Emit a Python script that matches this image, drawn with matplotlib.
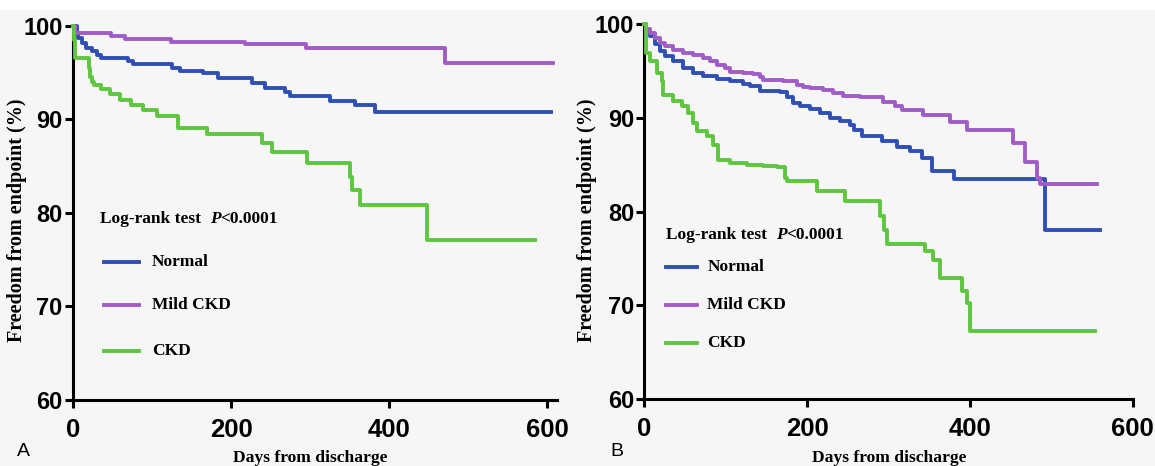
import matplotlib
matplotlib.use("Agg")
import matplotlib.pyplot as plt
from matplotlib import font_manager as fm
from matplotlib.lines import Line2D
from matplotlib.patches import Rectangle

# ---------------- data ----------------
x_ticks = [0, 200, 400, 600]
y_ticks = [60, 70, 80, 90, 100]
groups = ["Normal", "Mild CKD", "CKD"]
colors = {"Normal": "#2f4fb4", "Mild CKD": "#a05dc6", "CKD": "#5ec63f"}

# Panel A
A_normal_days = [0, 4.6, 6.8, 11, 17, 24, 30, 36, 70, 76, 125, 135, 165, 184, 226, 243, 268, 275, 325, 357, 382, 605]
A_normal_surv = [100, 99.2, 98.7, 98.15, 97.6, 97.25, 96.9, 96.6, 96.2, 95.95, 95.5, 95.2, 94.9, 94.4, 93.9, 93.35, 92.9, 92.45, 92.0, 91.5, 90.8, 90.8]
A_mild_days = [0, 3, 48, 66, 124, 218, 295, 471, 608]
A_mild_surv = [100, 99.2, 98.9, 98.6, 98.3, 98.0, 97.65, 96.05, 96.05]
A_ckd_days = [0, 1, 2.5, 20.5, 22, 23.6, 26, 36, 47, 59.5, 74, 89, 106, 133, 169, 239, 251.5, 296, 350, 353, 363, 448, 585]
A_ckd_surv = [100, 98.5, 96.6, 95.5, 94.5, 94.0, 93.7, 93.2, 92.65, 92.1, 91.5, 91.0, 90.3, 89.1, 88.4, 87.45, 86.5, 85.3, 83.8, 82.4, 80.85, 77.1, 77.1]

# Panel B
B_normal_days = [0, 2, 6.8, 12.9, 19, 25.2, 35.5, 47.7, 60, 72.3, 88.7, 105, 121.5, 130, 142, 166.6, 174.8, 183, 191, 203.5, 216, 228, 240.4, 252.7, 258, 267, 291.7, 310, 326.6, 341, 353.2, 380, 492.5, 560.5]
B_normal_surv = [100, 99.4, 98.7, 97.85, 97.1, 96.6, 96.05, 95.35, 94.8, 94.45, 94.15, 93.9, 93.65, 93.4, 92.85, 92.75, 92.25, 91.6, 91.25, 91.0, 90.55, 90.0, 89.65, 89.3, 88.7, 88.05, 87.5, 86.95, 86.45, 85.75, 84.3, 83.5, 78.0, 78.0]
B_mild_days = [0, 2, 6.8, 12.9, 19, 25.2, 35.5, 47.7, 60, 72.3, 80.5, 88.7, 99, 105, 121.5, 134, 142, 146, 170.7, 179, 187, 195, 203.5, 220, 232, 244.5, 265, 293.8, 308, 316.3, 343, 375.8, 396.3, 453.6, 468, 482.3, 486.4, 556]
B_mild_surv = [100, 99.5, 99.05, 98.55, 98.0, 97.65, 97.3, 96.95, 96.7, 96.4, 96.05, 95.7, 95.35, 94.9, 94.8, 94.7, 94.35, 94.1, 94.0, 93.9, 93.55, 93.3, 93.15, 92.95, 92.65, 92.3, 92.2, 91.75, 91.25, 90.8, 90.3, 89.55, 88.75, 87.35, 85.35, 83.6, 82.9, 82.9]
B_ckd_days = [0, 1.4, 6.8, 15, 21, 23.2, 35.5, 45.7, 54, 60, 64, 76.4, 84.6, 90.8, 105, 125.6, 146, 162.5, 172.7, 174.8, 211.7, 246.5, 290, 294, 298, 345, 355.3, 363.5, 390, 396.3, 400.4, 553.6]
B_ckd_surv = [100, 96.95, 96.05, 94.8, 93.9, 92.5, 91.85, 91.25, 90.55, 89.45, 88.6, 88.05, 87.15, 85.55, 85.2, 85.0, 84.85, 84.75, 83.6, 83.25, 82.25, 81.15, 79.5, 78.0, 76.55, 75.8, 74.85, 72.9, 71.5, 70.2, 67.3, 67.3]

panels = {
    "A": {"Normal": (A_normal_days, A_normal_surv), "Mild CKD": (A_mild_days, A_mild_surv), "CKD": (A_ckd_days, A_ckd_surv)},
    "B": {"Normal": (B_normal_days, B_normal_surv), "Mild CKD": (B_mild_days, B_mild_surv), "CKD": (B_ckd_days, B_ckd_surv)},
}
x_label = "Days from discharge"
y_label = "Freedom from endpoint (%)"
test_text = ("Log-rank test  ", "P", "<0.0001")


# ---------------- fonts ----------------
def pick(cands, **kw):
    for f in cands:
        try:
            fm.findfont(fm.FontProperties(family=f, **kw), fallback_to_default=False)
            return f
        except Exception:
            pass
    return "DejaVu Sans"

serif = pick(["Liberation Serif", "DejaVu Serif"])
sans = pick(["Liberation Sans", "DejaVu Sans"])
tickfont = sans

# ---------------- figure ----------------
W, H = 1155, 466
fig = plt.figure(figsize=(W / 100, H / 100), dpi=100, facecolor="#f6f6f6")
fig.add_artist(Rectangle((0, 1 - 10 / H), 1, 10 / H, transform=fig.transFigure,
                         facecolor="white", edgecolor="none", zorder=0))

def fx(x):
    return x / W

def fy(y):
    return 1 - y / H

layout = {
    "A": dict(l=73, r=556.5, t=25.7, b=400, xmax=612,
              leg_x=100, leg_y=219, line_x=(103.6, 138.7), rows=(262.3, 305, 350.7), txt_x=151.7,
              ylab=(17, 220), xlab=(310, 458), tag=(23, 452)),
    "B": dict(l=644.5, r=1132.5, t=24.3, b=399, xmax=600,
              leg_x=666, leg_y=234.7, line_x=(666, 696.7), rows=(267.3, 305.3, 343.3), txt_x=707.3,
              ylab=(587, 220), xlab=(889.5, 458), tag=(617, 452)),
}

for name, L in layout.items():
    ax = fig.add_axes([fx(L["l"]), fy(L["b"]), fx(L["r"] - L["l"]), (L["b"] - L["t"]) / H])
    ax.set_facecolor("none")
    for g in groups:
        d, s = panels[name][g]
        ax.step(d, s, where="post", color=colors[g], lw=2.8, clip_on=False, zorder=3)
    ax.set_xlim(0, L["xmax"])
    ax.set_ylim(60, 100)
    ax.set_xticks(x_ticks)
    ax.set_yticks(y_ticks)
    for sp in ["top", "right"]:
        ax.spines[sp].set_visible(False)
    for sp in ["left", "bottom"]:
        ax.spines[sp].set_linewidth(2.2)
        ax.spines[sp].set_color("black")
    ax.tick_params(axis="both", direction="out", length=6, width=2.2, color="black")
    ax.tick_params(axis="y", pad=1.5)
    ax.tick_params(axis="x", pad=7)
    for lab in ax.get_yticklabels():
        lab.set_fontfamily(tickfont)
        lab.set_fontweight("bold")
        lab.set_fontsize(17)
    for lab in ax.get_xticklabels():
        lab.set_fontfamily(tickfont)
        lab.set_fontweight("bold")
        lab.set_fontsize(18.5)

    fig.text(fx(L["ylab"][0]), fy(L["ylab"][1]), y_label, rotation=90, ha="center", va="center",
             family=serif, weight="bold", fontsize=14.5)
    fig.text(fx(L["xlab"][0]), fy(L["xlab"][1]), x_label, ha="center", va="center",
             family=serif, weight="bold", fontsize=12.6)
    fig.text(fx(L["tag"][0]), fy(L["tag"][1]), name, ha="center", va="center",
             family=sans, fontsize=14)

    t1 = fig.text(fx(L["leg_x"]), fy(L["leg_y"]), test_text[0], ha="left", va="center",
                  family=serif, weight="bold", fontsize=12.5)
    a2 = ax.annotate(test_text[1], xy=(1, 0), xycoords=t1, ha="left", va="bottom",
                     family=serif, weight="bold", style="italic", fontsize=12.5, annotation_clip=False)
    ax.annotate(test_text[2], xy=(1, 0), xycoords=a2, ha="left", va="bottom",
                family=serif, weight="bold", fontsize=12.5, annotation_clip=False)

    for g, yrow in zip(groups, L["rows"]):
        fig.add_artist(Line2D([fx(L["line_x"][0]), fx(L["line_x"][1])], [fy(yrow), fy(yrow)],
                              transform=fig.transFigure, color=colors[g], lw=2.8))
        fig.text(fx(L["txt_x"]), fy(yrow), g, ha="left", va="center",
                 family=serif, weight="bold", fontsize=12.5)

fig.savefig("out.png", dpi=100, facecolor=fig.get_facecolor())
